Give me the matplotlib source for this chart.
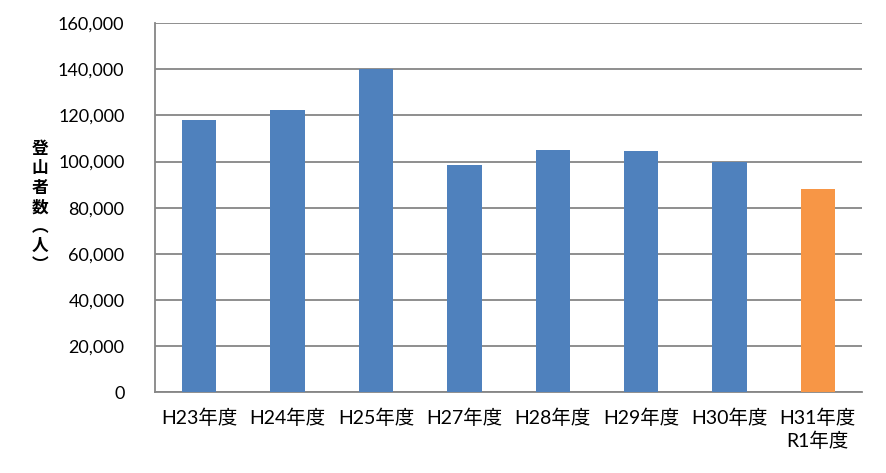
import numpy as np
import matplotlib.pyplot as plt
from matplotlib.ticker import FuncFormatter

years = ['H23年度', 'H24年度', 'H25年度', 'H27年度', 'H28年度', 'H29年度', 'H30年度', 'H31年度\nR1年度']
climbers = [118100, 122300, 140200, 98600, 105100, 104700, 99600, 88100]
bar_colors = ['#4F81BD'] * 7 + ['#F79646']

plt.rcParams['font.family'] = ['Lato', 'Noto Sans CJK JP', 'DejaVu Sans']

fig = plt.figure(figsize=(8.86, 4.73), dpi=100)
ax = fig.add_axes([0.175, 0.171, 0.798, 0.780])

x = np.arange(len(years))
ax.bar(x, climbers, width=0.39, color=bar_colors, zorder=3)

ax.set_xlim(-0.5, len(years) - 0.5)
ax.set_ylim(0, 160000)
ax.set_yticks(np.arange(0, 160001, 20000))
ax.yaxis.set_major_formatter(FuncFormatter(lambda v, p: '{:,.0f}'.format(v)))
ax.grid(axis='y', color='#868686', linewidth=1.3, zorder=0)

ax.set_xticks(x)
ax.set_xticklabels(years, fontsize=14, multialignment='center', linespacing=1.3)
ax.tick_params(axis='x', length=0, pad=12)
ax.tick_params(axis='y', length=0, pad=22, labelsize=13)

for s in ['top', 'right']:
    ax.spines[s].set_visible(False)
for s in ['left', 'bottom']:
    ax.spines[s].set_color('#868686')
    ax.spines[s].set_linewidth(1.3)

# vertical stacked y label
fig.text(0.045, 0.562, '登\n山\n者\n数\n︵\n人\n︶', ha='center', va='center',
         fontsize=12, fontweight='bold', linespacing=1.1,
         family=['Noto Sans CJK JP', 'DejaVu Sans'])

fig.savefig('out.png', dpi=100)
